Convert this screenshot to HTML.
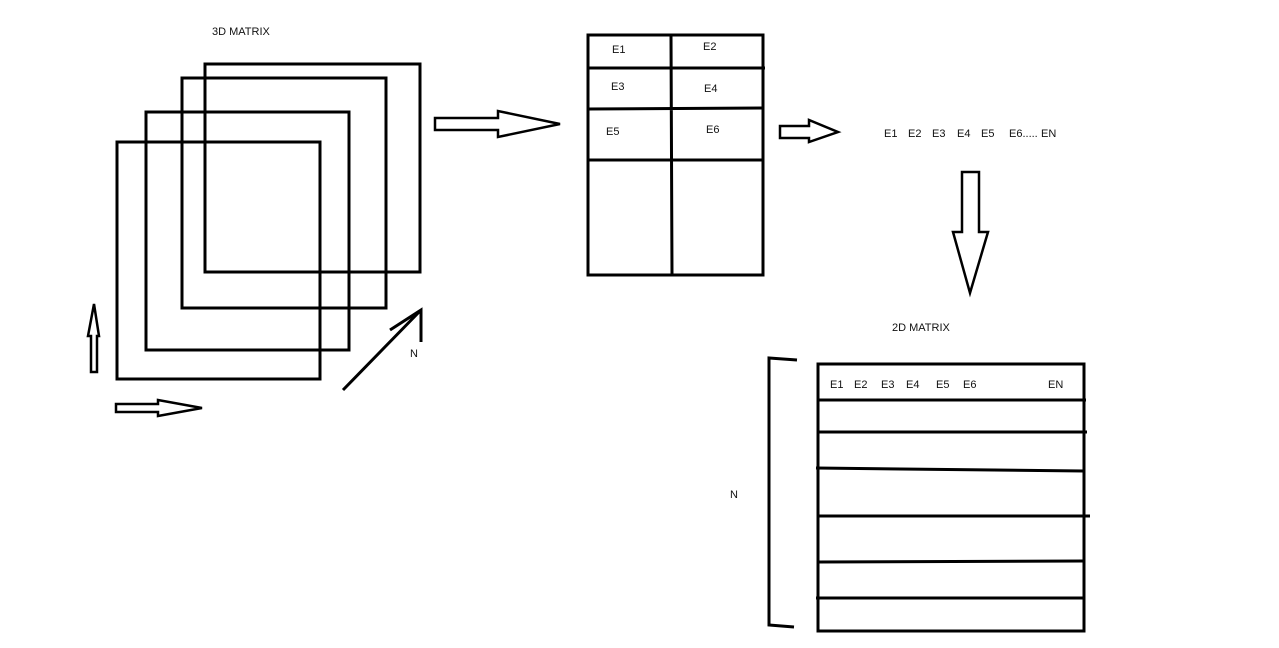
<!DOCTYPE html>
<html><head><style>body{margin:0;background:#fff}svg{display:block}text{font-family:"Liberation Sans",sans-serif;font-size:11px;fill:#111}</style></head><body>
<svg width="1279" height="648" viewBox="0 0 1279 648" xmlns="http://www.w3.org/2000/svg">
<g fill="none" stroke="#000" stroke-width="3">
<rect x="205" y="64" width="215" height="208"/>
<rect x="182" y="78" width="204" height="230"/>
<rect x="146" y="112" width="203" height="238"/>
<rect x="117" y="142" width="203" height="237"/>
<polygon points="435,118 498,118 498,111 560,124 498,137 498,130 435,130" stroke-width="2.5"/>
<polygon points="91,372 91,336 88,336 94,304 99,336 97,336 97,372" stroke-width="2.5"/>
<polygon points="116,404 158,404 158,400 202,408 158,416 158,412 116,412" stroke-width="2.5"/>
<path d="M343,390 L421,310 M390,330 L421,310 L421,342"/>
<rect x="588" y="35" width="175" height="240"/>
<path d="M671,35 L672,275 M588,68 L765,68 M588,109 L763,108 M588,160 L763,160"/>
<polygon points="780,126 809,126 809,120 838,132 809,142 809,138 780,138" stroke-width="2.5"/>
<polygon points="962,172 979,172 979,232 988,232 970,293 953,232 962,232" stroke-width="2.5"/>
<rect x="818" y="364" width="266" height="267"/>
<path d="M818,400 L1086,400 M818,432 L1087,432 M816,468 L1084,471 M818,516 L1090,516 M818,562 L1084,561 M816,598 L1084,598"/>
<path d="M797,360 L769,358 L769,625 L794,627"/>
</g>
<text x="212" y="35">3D MATRIX</text>
<text x="410" y="357">N</text>
<text x="612" y="53">E1</text><text x="703" y="50">E2</text>
<text x="611" y="90">E3</text><text x="704" y="92">E4</text>
<text x="606" y="135">E5</text><text x="706" y="133">E6</text>
<text x="884" y="137">E1</text><text x="908" y="137">E2</text><text x="932" y="137">E3</text><text x="957" y="137">E4</text><text x="981" y="137">E5</text><text x="1009" y="137">E6.....</text><text x="1041" y="137">EN</text>
<text x="892" y="331">2D MATRIX</text>
<text x="730" y="498">N</text>
<text x="830" y="388">E1</text><text x="854" y="388">E2</text><text x="881" y="388">E3</text><text x="906" y="388">E4</text><text x="936" y="388">E5</text><text x="963" y="388">E6</text>
<text x="1048" y="388">EN</text>
</svg>
</body></html>
